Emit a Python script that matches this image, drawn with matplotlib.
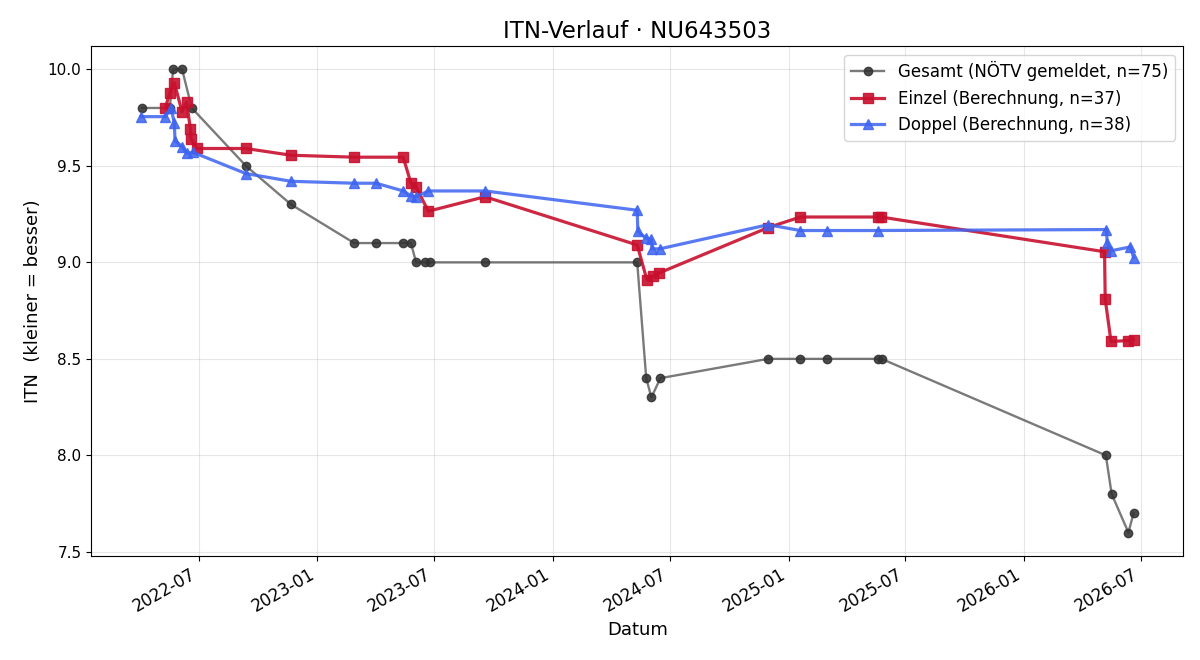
import matplotlib
matplotlib.use('Agg')
import matplotlib.pyplot as plt
import matplotlib.dates as mdates
import pandas as pd

# ── Daten ────────────────────────────────────────────────────────────────────
gesamt_dates = ['2022-04-04', '2022-05-17', '2022-05-22', '2022-06-05', '2022-06-20',
                '2022-09-12', '2022-11-21', '2023-02-27', '2023-04-02', '2023-05-14',
                '2023-05-26', '2023-06-03', '2023-06-17', '2023-06-25', '2023-09-18',
                '2024-05-11', '2024-05-25', '2024-06-02', '2024-06-16', '2024-11-30',
                '2025-01-19', '2025-03-02', '2025-05-19', '2025-05-25', '2026-05-08',
                '2026-05-17', '2026-06-12', '2026-06-20']
gesamt_vals = [9.8, 9.8, 10.0, 10.0, 9.8,
               9.5, 9.3, 9.1, 9.1, 9.1,
               9.1, 9.0, 9.0, 9.0, 9.0,
               9.0, 8.4, 8.3, 8.4, 8.5,
               8.5, 8.5, 8.5, 8.5, 8.0,
               7.8, 7.6, 7.7]

einzel_dates = ['2022-05-10', '2022-05-17', '2022-05-24', '2022-06-05', '2022-06-12',
                '2022-06-18', '2022-06-19', '2022-06-28', '2022-09-12', '2022-11-21',
                '2023-02-27', '2023-05-14', '2023-05-26', '2023-06-03', '2023-06-22',
                '2023-09-18', '2024-05-11', '2024-05-26', '2024-06-05', '2024-06-14',
                '2024-11-30', '2025-01-19', '2025-05-19', '2025-05-24', '2026-05-06',
                '2026-05-07', '2026-05-16', '2026-06-12', '2026-06-20']
einzel_vals = [9.80, 9.88, 9.93, 9.78, 9.83,
               9.69, 9.64, 9.59, 9.59, 9.555,
               9.545, 9.545, 9.41, 9.39, 9.265,
               9.34, 9.09, 8.91, 8.93, 8.945,
               9.18, 9.235, 9.235, 9.235, 9.055,
               8.81, 8.59, 8.595, 8.60]

doppel_dates = ['2022-04-02', '2022-05-10', '2022-05-19', '2022-05-24', '2022-05-25',
                '2022-06-05', '2022-06-12', '2022-06-22', '2022-09-12', '2022-11-21',
                '2023-02-27', '2023-04-02', '2023-05-14', '2023-05-26', '2023-06-03',
                '2023-06-22', '2023-09-18', '2024-05-11', '2024-05-12', '2024-05-25',
                '2024-06-02', '2024-06-03', '2024-06-15', '2024-11-30', '2025-01-19',
                '2025-03-02', '2025-05-19', '2026-05-09', '2026-05-10', '2026-05-16',
                '2026-06-15', '2026-06-20']
doppel_vals = [9.755, 9.755, 9.80, 9.72, 9.63,
               9.60, 9.565, 9.57, 9.46, 9.42,
               9.41, 9.41, 9.37, 9.345, 9.34,
               9.37, 9.37, 9.27, 9.16, 9.125,
               9.12, 9.07, 9.07, 9.195, 9.165,
               9.165, 9.165, 9.17, 9.10, 9.06,
               9.08, 9.025]

labels = ['Gesamt (NÖTV gemeldet, n=75)',
          'Einzel (Berechnung, n=37)',
          'Doppel (Berechnung, n=38)']

C_GRAY_LINE = (0.2, 0.2, 0.2, 0.65)
C_GRAY_MARK = (0.2, 0.2, 0.2, 0.88)
C_RED = '#c8102e'
C_BLUE = '#3d63f0'

fig, ax = plt.subplots(figsize=(12, 6.6), dpi=100)

ax.plot(pd.to_datetime(gesamt_dates), gesamt_vals, marker='o', ms=6,
        color=C_GRAY_LINE, mfc=C_GRAY_MARK, mec=C_GRAY_MARK, lw=1.7,
        label=labels[0])
ax.plot(pd.to_datetime(einzel_dates), einzel_vals, marker='s', ms=7,
        color=C_RED, alpha=0.9, lw=2.3, label=labels[1])
ax.plot(pd.to_datetime(doppel_dates), doppel_vals, marker='^', ms=7,
        color=C_BLUE, alpha=0.85, lw=2.3, label=labels[2])

ax.set_title('ITN-Verlauf · NU643503', fontsize=16.5)
ax.set_xlabel('Datum', fontsize=13)
ax.set_ylabel('ITN  (kleiner = besser)', fontsize=13)
ax.grid(True, alpha=0.3)
ax.legend(loc='upper right', fontsize=12)

ax.xaxis.set_major_locator(mdates.MonthLocator(bymonth=[1, 7]))
ax.xaxis.set_major_formatter(mdates.DateFormatter('%Y-%m'))
ax.tick_params(axis='y', labelsize=11)
ax.tick_params(axis='x', labelsize=12)
fig.autofmt_xdate()

plt.subplots_adjust(left=0.076, right=0.986, top=0.93, bottom=0.158)
plt.savefig('out.png', dpi=100)
plt.close()
